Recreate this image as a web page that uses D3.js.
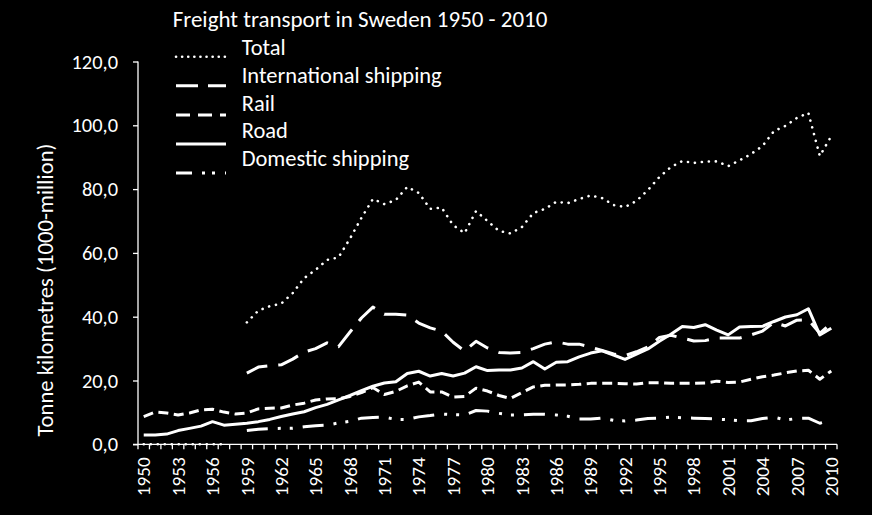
<!DOCTYPE html>
<html><head><meta charset="utf-8">
<script src="https://cdn.jsdelivr.net/npm/d3@7"></script>
<style>
html,body{margin:0;padding:0;background:#000;}
svg{display:block;background:#000;}
text{font-family:Carlito, Calibri, Lato, sans-serif; fill:#fff;}
</style></head><body>
<svg id="chart" width="872" height="515"></svg>
<script>
const years = [1950,1951,1952,1953,1954,1955,1956,1957,1958,1959,
  1960,1961,1962,1963,1964,1965,1966,1967,1968,1969,
  1970,1971,1972,1973,1974,1975,1976,1977,1978,1979,
  1980,1981,1982,1983,1984,1985,1986,1987,1988,1989,
  1990,1991,1992,1993,1994,1995,1996,1997,1998,1999,
  2000,2001,2002,2003,2004,2005,2006,2007,2008,2009,2010];
const xTickLabels = [1950,1953,1956,1959,1962,1965,1968,1971,1974,1977,1980,1983,1986,1989,1992,1995,1998,2001,2004,2007,2010];
const yTicks = [0,20,40,60,80,100,120];

const total = [0,0,0,0,0,0,0,0,null,38.2,
  41.9,43.3,44.1,47.4,52.1,54.7,57.8,58.6,64.5,71.0,
  76.9,75.3,76.6,80.7,78.8,73.8,74.2,68.7,66.2,73.1,
  70.0,66.9,66.1,68.1,72.5,73.8,76.0,75.6,76.9,78.0,
  77.2,75.0,74.4,76.3,79.7,83.8,86.9,88.8,88.2,88.6,
  88.7,87.2,89.0,91.0,93.5,98.2,99.8,102.3,103.9,90.4,96.6];
const international = [null,null,null,null,null,null,null,null,null,22.3,
  24.2,24.6,24.9,26.7,28.9,30.0,31.8,30.6,35.2,39.6,
  43.0,40.8,40.8,40.5,38.0,36.5,35.5,32.0,29.2,32.3,
  30.2,28.8,28.6,28.8,30.0,31.4,32.1,31.4,31.4,30.5,
  29.4,28.3,27.8,29.0,30.5,33.5,34.2,33.3,32.4,32.5,
  33.3,33.3,33.3,34.3,35.5,38.2,37.1,38.9,39.0,34.8,37.9];
const rail = [8.7,10.1,9.8,9.2,9.8,10.8,11.0,10.1,9.5,9.8,
  11.1,11.3,11.4,12.3,12.9,13.9,14.2,14.3,15.0,16.2,
  17.8,15.6,16.6,18.3,19.5,16.4,16.4,14.8,15.0,17.6,
  16.7,15.3,14.4,16.2,18.0,18.5,18.6,18.6,18.8,19.1,
  19.1,19.1,19.0,18.9,19.3,19.3,19.1,19.1,19.1,19.2,
  19.8,19.4,19.5,20.4,21.2,21.7,22.4,23.0,23.2,20.4,23.0];
const road = [2.9,2.9,3.2,4.3,5.0,5.7,7.1,6.0,6.3,6.6,
  7.1,7.8,8.7,9.5,10.2,11.5,12.5,13.9,15.3,16.8,
  18.2,19.2,19.6,22.2,22.9,21.4,22.2,21.4,22.3,24.3,
  23.1,23.3,23.3,23.9,25.9,23.6,25.7,25.9,27.4,28.6,
  29.3,28.0,26.6,28.3,29.9,32.3,34.5,36.9,36.6,37.5,
  35.8,34.3,36.8,36.9,37.0,38.5,39.9,40.6,42.5,34.3,36.4];
const domestic = [null,null,null,null,null,null,null,null,null,4.3,
  4.7,4.9,5.0,5.0,5.5,5.8,6.0,6.7,7.2,8.2,
  8.4,8.5,7.8,7.8,8.6,9.0,9.5,9.3,9.2,10.6,
  10.4,9.7,9.2,9.2,9.4,9.4,9.2,8.8,7.9,7.9,
  8.2,7.5,7.3,7.6,8.1,8.2,8.5,8.3,8.2,8.1,
  7.9,7.7,7.4,7.4,8.1,8.5,7.6,8.1,8.2,6.6,7.6];

const seriesNames = ["Total","International shipping","Rail","Road","Domestic shipping"];
const seriesValues = [total, international, rail, road, domestic];
const titleText = "Freight transport in Sweden 1950 - 2010";
const yTitleText = "Tonne kilometres (1000-million)";

const styles = [
  {w:2.6, dash:"0.1,6.9", cap:"round"},
  {w:3, dash:"22,11", cap:"butt"},
  {w:3, dash:"10,5.5", cap:"butt"},
  {w:3, dash:null, cap:"butt"},
  {w:3, dash:"21,10,3,9,3,10", cap:"butt"}
];

const svg = d3.select("#chart");
const pLeft = 138, pRight = 837, pTop = 61.5, pBottom = 444.3;

const x = d3.scaleBand().domain(years).range([pLeft, pRight]).padding(0);
const xc = d => x(d) + x.bandwidth()/2;
const y = d3.scaleLinear().domain([0,120]).range([pBottom, pTop]);

function fit(sel, target){
  const n = sel.node();
  const fs = parseFloat(sel.style("font-size"));
  const len = n.getComputedTextLength();
  return fs * target / len;
}

// series
const g = svg.append("g");
seriesValues.forEach((vals, i) => {
  const data = years.map((yr, k) => ({yr, v: vals[k]}));
  const line = d3.line().defined(d => d.v != null).x(d => xc(d.yr)).y(d => y(d.v));
  const st = styles[i];
  g.append("path").datum(data)
    .attr("d", line)
    .attr("fill","none")
    .attr("stroke","#fff")
    .attr("stroke-width", st.w)
    .attr("stroke-linecap", st.cap)
    .attr("stroke-linejoin","round")
    .attr("stroke-dasharray", st.dash);
});

// y axis
const fmt = d3.formatLocale({decimal:",", thousands:".", grouping:[3], currency:["",""]}).format(".1f");
const yAxis = svg.append("g").attr("transform", `translate(${pLeft},0)`)
  .call(d3.axisLeft(y).tickValues(yTicks).tickSize(5).tickPadding(15).tickFormat(fmt));
yAxis.select(".domain").attr("stroke","#fff").attr("stroke-width",1.3).attr("d", `M0,${pTop}V${pBottom}`);
yAxis.selectAll(".tick line").attr("stroke","#fff").attr("stroke-width",1.3);
yAxis.selectAll(".tick text").attr("fill","#fff").style("font-family","Carlito, Calibri, Lato, sans-serif").style("font-size","20px");
{
  const t = yAxis.selectAll(".tick text").filter(d => d === 100);
  const nf = fit(t, 46.5);
  yAxis.selectAll(".tick text").style("font-size", nf + "px");
}

// x axis
const xa = svg.append("g");
xa.append("line").attr("x1", pLeft - 5).attr("x2", pRight).attr("y1", pBottom).attr("y2", pBottom)
  .attr("stroke","#fff").attr("stroke-width",1.3);
const edges = years.map(d => x(d)).concat([pRight]);
xa.selectAll("line.tk").data(edges).enter().append("line").attr("class","tk")
  .attr("x1", d => d).attr("x2", d => d).attr("y1", pBottom).attr("y2", pBottom + 5)
  .attr("stroke","#fff").attr("stroke-width",1.3);
const xl = xa.selectAll("text").data(xTickLabels).enter().append("text")
  .attr("transform", d => `translate(${xc(d)},${pBottom + 13}) rotate(-90)`)
  .attr("text-anchor","end").attr("dy","0.35em")
  .style("font-size","20px").text(d => d);
{
  const nf = fit(xl.filter((d,i)=> i===0), 39);
  xl.style("font-size", nf + "px");
}

// y title
const yt = svg.append("text")
  .attr("transform", `translate(45,290) rotate(-90)`)
  .attr("text-anchor","middle").attr("dy","0.35em")
  .style("font-size","22px").text(yTitleText);
yt.style("font-size", fit(yt, 293) + "px");

// title
const tt = svg.append("text").attr("x",172.7).attr("y",27.3).style("font-size","22px").text(titleText);
tt.style("font-size", fit(tt, 375) + "px");

// legend
const lg = svg.append("g");
const items = lg.selectAll("g").data(seriesNames).enter().append("g");
items.append("line")
  .attr("x1",176).attr("x2",226)
  .attr("y1",(d,i)=> 56.7 + i*29.1).attr("y2",(d,i)=> 56.7 + i*29.1)
  .attr("stroke","#fff")
  .attr("stroke-width",(d,i)=>styles[i].w)
  .attr("stroke-linecap",(d,i)=>styles[i].cap)
  .attr("stroke-dasharray",(d,i)=> i===0 ? "0.1,6" : (i===1 ? "22,10" : (i===2 ? "14,8" : (i===4 ? "16,10,3,7,3,10" : null))));
const lt = items.append("text").attr("x",241.7).attr("y",(d,i)=> 55.3 + i*27.6)
  .style("font-size","22px").text(d => d);
{
  const nf = fit(lt.filter((d,i)=> i===1), 200);
  lt.style("font-size", nf + "px");
}
</script>
</body></html>
